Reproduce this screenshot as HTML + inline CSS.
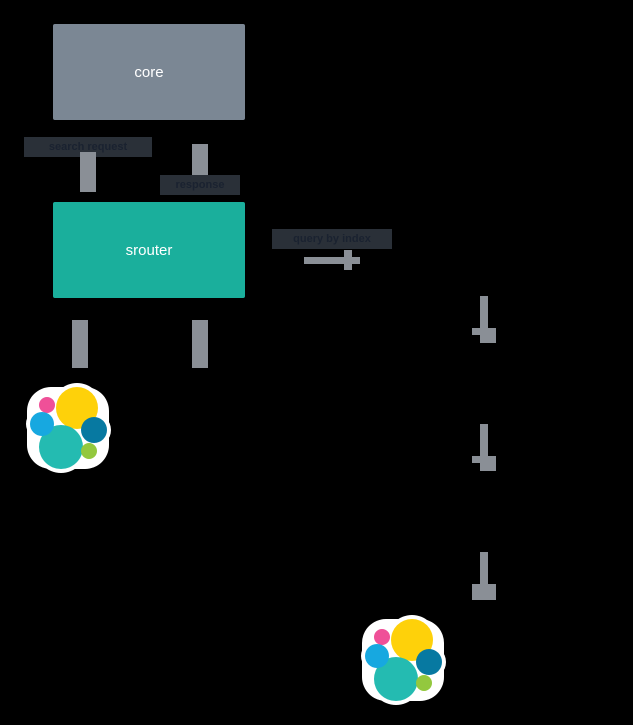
<!DOCTYPE html><html><head><style>
body{margin:0;background:#000;width:633px;height:725px;position:relative;overflow:hidden;font-family:"Liberation Sans",sans-serif}
.b{position:absolute}
.g{position:absolute;background:#8a8f96}
.lbl{position:absolute;background:#2a3038;color:#1a2230;font-size:11px;font-weight:bold;line-height:20px;text-align:center}
</style></head><body>
<div class="b" style="left:53px;top:24px;width:192px;height:96px;background:#7b8794;border-radius:2px;color:#fff;font-size:15px;display:flex;align-items:center;justify-content:center">core</div>
<div class="b" style="left:53px;top:202px;width:192px;height:96px;background:#1aaf9c;border-radius:2px;color:#fff;font-size:15px;display:flex;align-items:center;justify-content:center">srouter</div>
<div class="lbl" style="left:24px;top:137px;width:128px">search request</div>
<div class="g" style="left:80px;top:152px;width:16px;height:40px"></div>
<div class="g" style="left:192px;top:144px;width:16px;height:32px"></div>
<div class="lbl" style="left:160px;top:175px;width:80px">response</div>
<div class="lbl" style="left:272px;top:229px;width:120px">query by index</div>
<div class="g" style="left:304px;top:257px;width:56px;height:7px"></div>
<div class="g" style="left:344px;top:250px;width:8px;height:20px"></div>
<div class="g" style="left:72px;top:320px;width:16px;height:48px"></div>
<div class="g" style="left:192px;top:320px;width:16px;height:48px"></div>
<div class="g" style="left:480px;top:296px;width:8px;height:46px"></div>
<div class="g" style="left:472px;top:328px;width:24px;height:7px"></div>
<div class="g" style="left:480px;top:330px;width:16px;height:13px"></div>
<div class="g" style="left:480px;top:424px;width:8px;height:46px"></div>
<div class="g" style="left:472px;top:456px;width:24px;height:7px"></div>
<div class="g" style="left:480px;top:458px;width:16px;height:13px"></div>
<div class="g" style="left:480px;top:552px;width:8px;height:40px"></div>
<div class="g" style="left:472px;top:584px;width:24px;height:16px"></div>
<svg width="633" height="725" style="position:absolute;left:0;top:0">
<defs><g id="e">
<g fill="#fff"><rect x="27" y="387" width="82" height="82" rx="24"/><circle cx="77" cy="408" r="25"/><circle cx="61" cy="447" r="26"/><circle cx="47" cy="405" r="12"/><circle cx="42" cy="424" r="16"/><circle cx="94" cy="430" r="17"/><circle cx="89" cy="451" r="12"/></g>
<circle cx="77" cy="408" r="21" fill="#fed10a"/><circle cx="61" cy="447" r="22" fill="#24bbb1"/><circle cx="47" cy="405" r="8" fill="#ef5098"/><circle cx="42" cy="424" r="12" fill="#17a8e0"/><circle cx="94" cy="430" r="13" fill="#0779a1"/><circle cx="89" cy="451" r="8" fill="#93c83e"/>
</g></defs>
<use href="#e"/><use href="#e" x="335" y="232"/>
</svg>
</body></html>
